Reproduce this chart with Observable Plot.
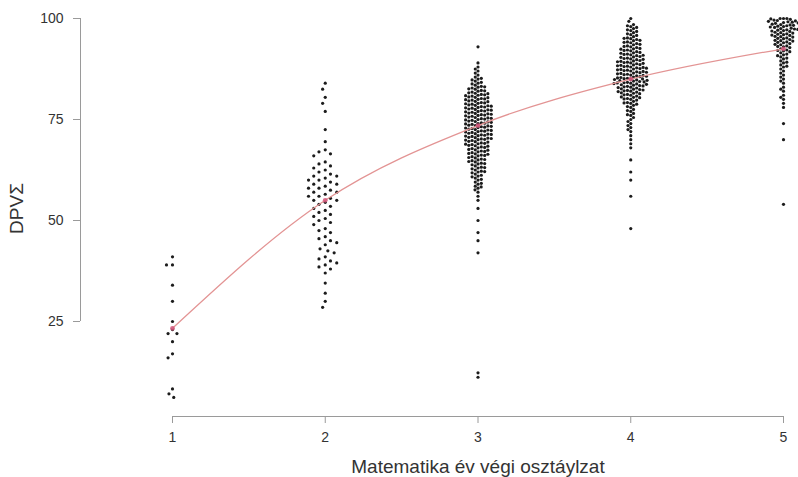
<!DOCTYPE html>
<html><head><meta charset="utf-8">
<script src="https://cdn.jsdelivr.net/npm/d3@7"></script>
<script src="https://cdn.jsdelivr.net/npm/@observablehq/plot@0.6"></script>
<style>html,body{margin:0;padding:0;background:#fff}#chart svg{display:block}</style>
</head><body><div id="chart"></div>
<script>
const grades = [1, 2, 3, 4, 5];
const yTicks = [25, 50, 75, 100];
const gradeMeans = [23.3, 55, 73.5, 85, 92.5];
const xLabel = "Matematika év végi osztáylzat";
const yLabel = "DPVΣ";

const scores1 = [41, 39, 39, 34, 30, 25, 23, 22, 22, 20, 17, 16, 8.3, 7.1, 6.2];
const scores2 = [84, 82.5, 80.5, 79, 77, 72.5, 69.5, 67.5, 67, 66.5, 66, 64.5, 64, 63.5, 63, 62.5, 62, 61.5, 61, 61, 60.5, 60, 60, 59.5, 59, 59, 58.5, 58, 58, 57.5, 57, 57, 56.5, 56, 56, 55.5, 55, 55, 54.5, 54, 53.5, 53, 52.5, 52, 51.5, 51, 50.5, 50, 49.5, 49, 48, 47.5, 47, 46, 45.5, 45, 44.5, 44, 43, 42.5, 42, 41, 40.5, 40, 39.5, 39, 38.5, 38, 37, 34.5, 32, 30, 28.5];
const scores3 = [93, 89, 88,
 87, 87.5, 86, 86.5, 85, 85.5, 85.2, 84, 84.5, 84.2, 84.8,
 83, 83.5, 83.2, 83.8, 83.1, 82, 82.5, 82.2, 82.8, 82.1, 82.6,
 81, 81.5, 81.2, 81.8, 81.1, 81.6, 81.4, 80, 80.5, 80.2, 80.8, 80.1, 80.6, 80.4, 80.9,
 79, 79.5, 79.2, 79.8, 79.1, 79.6, 79.4, 79.9,
 78, 78.5, 78.2, 78.8, 78.1, 78.6, 78.4, 78.9, 78.3,
 77, 77.5, 77.2, 77.8, 77.1, 77.6, 77.4, 77.9, 77.3,
 76, 76.5, 76.2, 76.8, 76.1, 76.6, 76.4, 76.9, 76.3,
 75, 75.5, 75.2, 75.8, 75.1, 75.6, 75.4, 75.9, 75.3,
 74, 74.5, 74.2, 74.8, 74.1, 74.6, 74.4, 74.9, 74.3,
 73, 73.5, 73.2, 73.8, 73.1, 73.6, 73.4, 73.9, 73.3,
 72, 72.5, 72.2, 72.8, 72.1, 72.6, 72.4, 72.9, 72.3,
 71, 71.5, 71.2, 71.8, 71.1, 71.6, 71.4, 71.9, 71.3,
 70, 70.5, 70.2, 70.8, 70.1, 70.6, 70.4, 70.9, 70.3,
 69, 69.5, 69.2, 69.8, 69.1, 69.6, 69.4, 69.9,
 68, 68.5, 68.2, 68.8, 68.1, 68.6, 68.4, 68.9,
 67, 67.5, 67.2, 67.8, 67.1, 67.6, 67.4,
 66, 66.5, 66.2, 66.8, 66.1, 66.6, 66.4,
 65, 65.5, 65.2, 65.8, 65.1, 65.6,
 64, 64.5, 64.2, 64.8, 64.1, 64.6,
 63, 63.5, 63.2, 63.8, 63.1,
 62, 62.5, 62.2, 62.8, 62.1,
 61, 61.5, 61.2, 61.8, 60, 60.5, 60.2, 60.8,
 59, 59.5, 59.2, 58, 58.5, 58.3, 57, 57.6,
 56, 55, 53, 50, 47, 45, 42, 12.3, 11.2];
const scores4 = [100, 99.3,
 98, 98.5, 98.2, 97, 97.5, 97.2, 97.8, 96, 96.5, 96.2, 96.8,
 95, 95.5, 95.2, 95.8, 95.1, 94, 94.5, 94.2, 94.8, 94.1, 94.6,
 93, 93.5, 93.2, 93.8, 93.1, 93.6, 92, 92.5, 92.2, 92.8, 92.1, 92.6, 92.4,
 91, 91.5, 91.2, 91.8, 91.1, 91.6, 91.4, 90, 90.5, 90.2, 90.8, 90.1, 90.6, 90.4, 90.9,
 89, 89.5, 89.2, 89.8, 89.1, 89.6, 89.4, 89.9, 89.3,
 88, 88.5, 88.2, 88.8, 88.1, 88.6, 88.4, 88.9, 88.3,
 87, 87.5, 87.2, 87.8, 87.1, 87.6, 87.4, 87.9, 87.3, 87.7,
 86, 86.5, 86.2, 86.8, 86.1, 86.6, 86.4, 86.9, 86.3, 86.7,
 85, 85.5, 85.2, 85.8, 85.1, 85.6, 85.4, 85.9, 85.3, 85.7, 85.05,
 84, 84.5, 84.2, 84.8, 84.1, 84.6, 84.4, 84.9, 84.3, 84.7, 84.05,
 83, 83.5, 83.2, 83.8, 83.1, 83.6, 83.4, 83.9, 83.3, 83.7,
 82, 82.5, 82.2, 82.8, 82.1, 82.6, 82.4, 82.9, 82.3,
 81, 81.5, 81.2, 81.8, 81.1, 81.6, 81.4, 81.9,
 80, 80.5, 80.2, 80.8, 80.1, 80.6, 80.4,
 79, 79.5, 79.2, 79.8, 79.1, 78, 78.5, 78.2, 78.8,
 77, 77.5, 77.2, 76, 76.5, 76.2, 75, 75.5,
 74, 74.5, 73, 73.5, 72, 72.5,
 71, 70, 69, 68, 65, 62, 60, 56, 48];
const scores5 = [100, 100, 100,
 99, 99.5, 99.2, 99.8, 99.1, 99.6, 99.4, 99.9, 99.3,
 98, 98.5, 98.2, 98.8, 98.1, 98.6, 98.4, 98.9, 98.3,
 97, 97.5, 97.2, 97.8, 97.1, 97.6, 97.4, 97.9, 97.3,
 96, 96.5, 96.2, 96.8, 96.1, 96.6, 96.4, 96.9,
 95, 95.5, 95.2, 95.8, 95.1, 95.6, 95.4, 95.9,
 94, 94.5, 94.2, 94.8, 94.1, 94.6, 94.4,
 93, 93.5, 93.2, 93.8, 93.1, 93.6,
 92, 92.5, 92.2, 92.8, 92.1,
 91, 91.5, 91.2, 91.8,
 90, 90.5, 90.2, 90.8, 89, 89.5, 89.2,
 88, 88.5, 88.2, 87, 87.5, 86, 86.5,
 85, 85.5, 84, 84.5, 83, 82, 82.5,
 81, 80.5, 80, 79, 78, 74, 70, 54];
const groups = [scores1, scores2, scores3, scores4, scores5];

const W = 798, H = 477;
const margin = {top: 0, right: 0, bottom: 61, left: 80};
const xDomain = [1, 5], xRange = [172, 783];
const yDomain = [25, 100], yRange = [321, 18];
const xPx = d3.scaleLinear(xDomain, xRange);
const yPx = d3.scaleLinear(yDomain, yRange);
const frameMid = (margin.left + W - margin.right) / 2;
const padByGroup = [2.8, 3.4, 0.2, 0.2, 0.2];
const axisGray = "#9a9a9a";
const textColor = "#333";

const dotMarks = groups.map((vals, i) =>
  Plot.dot(vals, Plot.dodgeX({anchor: "middle", padding: padByGroup[i]},
    {y: d => d, r: 1.6, fill: "#1c1c1c", dx: xPx(grades[i]) - frameMid}))
);

const chart = Plot.plot({
  width: W, height: H,
  marginTop: margin.top, marginRight: margin.right, marginBottom: margin.bottom, marginLeft: margin.left,
  style: {fontFamily: "'Liberation Sans', Arial, sans-serif", background: "#fff"},
  x: {type: "linear", domain: xDomain, range: xRange},
  y: {type: "linear", domain: yDomain, range: yRange},
  marks: [
    Plot.ruleX([xPx.invert(margin.left)], {y1: yTicks[0], y2: yTicks[yTicks.length - 1], stroke: axisGray}),
    Plot.ruleY([yPx.invert(H - margin.bottom)], {x1: grades[0], x2: grades[grades.length - 1], stroke: axisGray}),
    Plot.axisY(yTicks, {tickSize: 7, tickPadding: 10, fontSize: 14, stroke: axisGray, fill: textColor, label: null}),
    Plot.axisX(grades, {tickSize: 7, tickPadding: 9, fontSize: 14, stroke: axisGray, fill: textColor, label: null, tickFormat: "d"}),
    ...dotMarks,
    Plot.line(grades, {x: d => d, y: (d, i) => gradeMeans[i], stroke: "#e39494", strokeWidth: 1.3, curve: "monotone-x"}),
    Plot.dot(grades, {x: d => d, y: (d, i) => gradeMeans[i], r: 2.4, fill: "#d2567a", fillOpacity: 0.85}),
    Plot.text([xLabel], {x: d3.mean(grades), frameAnchor: "bottom", dy: 50, fontSize: 19, fill: textColor, textAnchor: "middle", lineAnchor: "middle"}),
    Plot.text([yLabel], {frameAnchor: "left", rotate: -90, dx: -64, fontSize: 19, fill: textColor, textAnchor: "middle", lineAnchor: "middle"})
  ]
});
document.getElementById("chart").append(chart);
</script>
</body></html>
